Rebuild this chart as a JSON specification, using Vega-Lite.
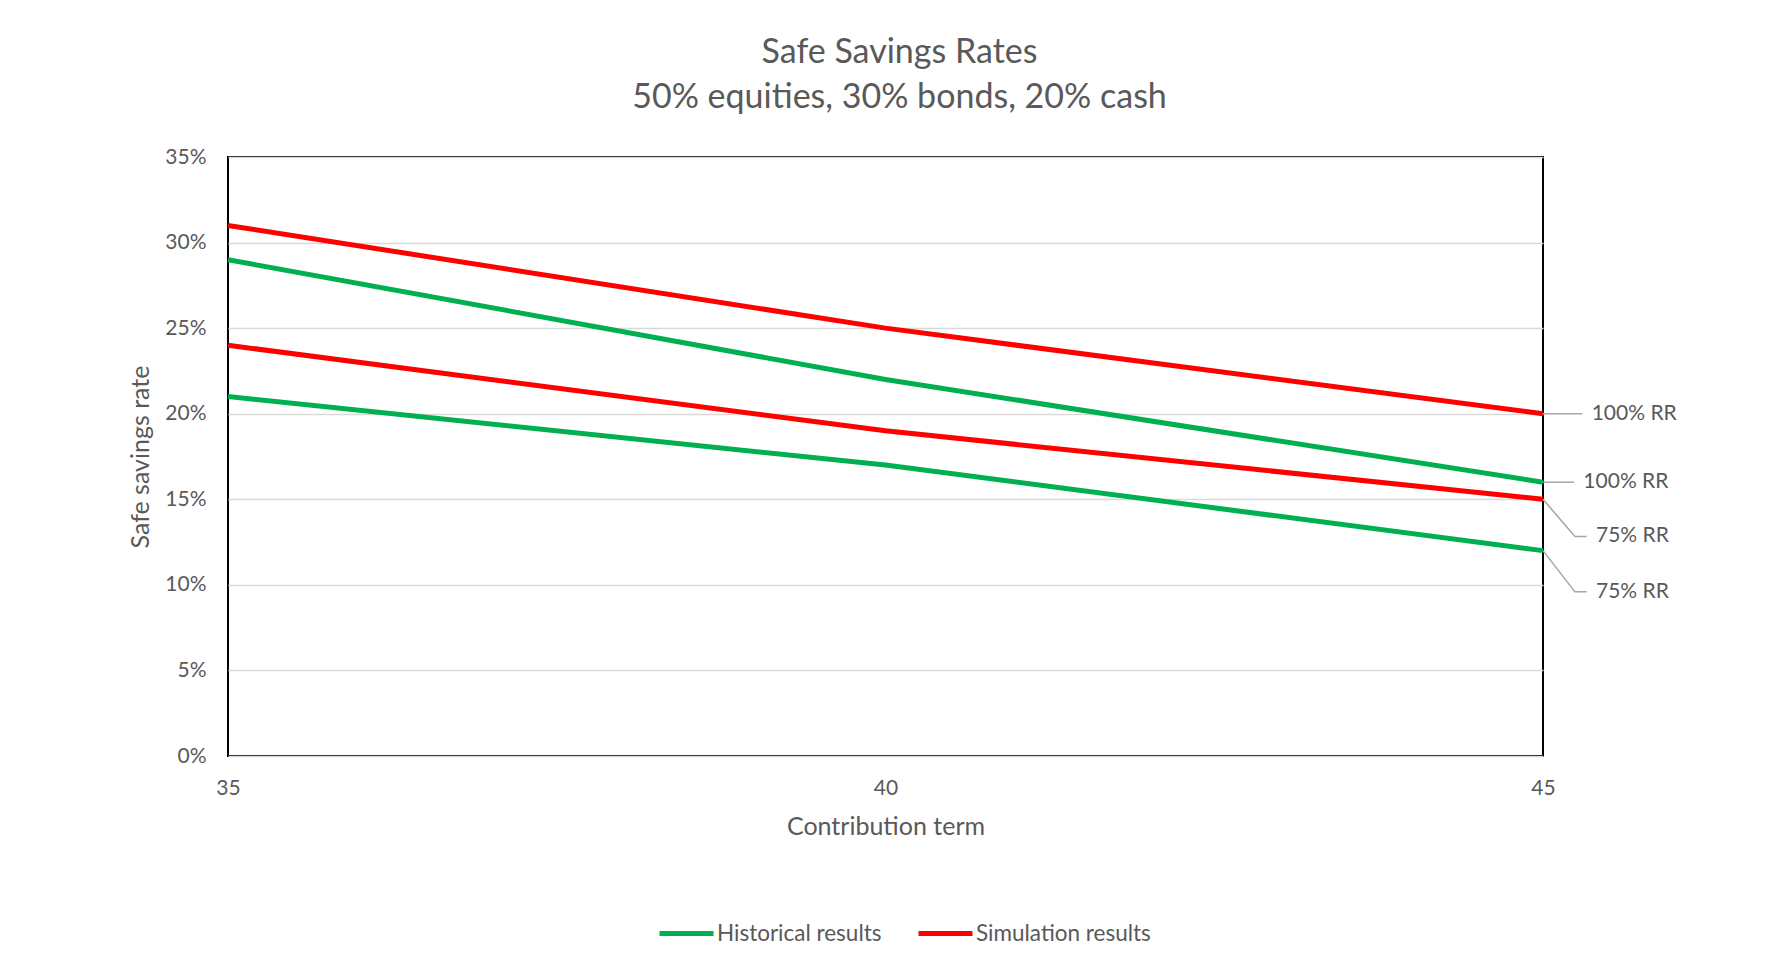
{
  "$schema": "https://vega.github.io/schema/vega-lite/v6.json",
  "width": 1315,
  "height": 599,
  "autosize": {"type": "none"},
  "padding": {"left": 228, "top": 157, "right": 230, "bottom": 212},
  "background": "white",
  "title": {
    "text": ["Safe Savings Rates", "50% equities, 30% bonds, 20% cash"],
    "anchor": "middle",
    "frame": "group",
    "dx": 14,
    "offset": 31,
    "fontSize": 34,
    "font": "Lato",
    "fontWeight": "normal",
    "color": "#595959",
    "lineHeight": 45
  },
  "config": {
    "view": {"stroke": "black", "strokeWidth": 2},
    "font": "Lato"
  },
  "datasets": {
    "rates": [
      {"series": "Historical results", "rr": "Historical 100% RR", "term": 35, "rate": 0.29},
      {"series": "Historical results", "rr": "Historical 100% RR", "term": 40, "rate": 0.22},
      {"series": "Historical results", "rr": "Historical 100% RR", "term": 45, "rate": 0.16},
      {"series": "Historical results", "rr": "Historical 75% RR", "term": 35, "rate": 0.21},
      {"series": "Historical results", "rr": "Historical 75% RR", "term": 40, "rate": 0.17},
      {"series": "Historical results", "rr": "Historical 75% RR", "term": 45, "rate": 0.12},
      {"series": "Simulation results", "rr": "Simulation 100% RR", "term": 35, "rate": 0.31},
      {"series": "Simulation results", "rr": "Simulation 100% RR", "term": 40, "rate": 0.25},
      {"series": "Simulation results", "rr": "Simulation 100% RR", "term": 45, "rate": 0.20},
      {"series": "Simulation results", "rr": "Simulation 75% RR", "term": 35, "rate": 0.24},
      {"series": "Simulation results", "rr": "Simulation 75% RR", "term": 40, "rate": 0.19},
      {"series": "Simulation results", "rr": "Simulation 75% RR", "term": 45, "rate": 0.15}
    ],
    "leaders": [
      {"id": "s100", "step": 1, "term": 45, "rate": 0.20},
      {"id": "s100", "step": 2, "term": 45.30, "rate": 0.20},
      {"id": "h100", "step": 1, "term": 45, "rate": 0.16},
      {"id": "h100", "step": 2, "term": 45.236, "rate": 0.16},
      {"id": "s75", "step": 1, "term": 45, "rate": 0.15},
      {"id": "s75", "step": 2, "term": 45.243, "rate": 0.1283},
      {"id": "s75", "step": 3, "term": 45.332, "rate": 0.1283},
      {"id": "h75", "step": 1, "term": 45, "rate": 0.12},
      {"id": "h75", "step": 2, "term": 45.243, "rate": 0.0959},
      {"id": "h75", "step": 3, "term": 45.332, "rate": 0.0959}
    ],
    "labels": [
      {"label": "100% RR", "term": 45.37, "rate": 0.20},
      {"label": "100% RR", "term": 45.307, "rate": 0.16},
      {"label": "75% RR", "term": 45.403, "rate": 0.1283},
      {"label": "75% RR", "term": 45.403, "rate": 0.0959}
    ]
  },
  "encoding": {
    "x": {
      "field": "term",
      "type": "quantitative",
      "title": "Contribution term",
      "scale": {"domain": [35, 45], "nice": false, "zero": false},
      "axis": {
        "values": [35, 40, 45],
        "format": "d",
        "grid": false,
        "domain": false,
        "ticks": false,
        "labelFlush": false,
        "labelFontSize": 21,
        "labelColor": "#595959",
        "labelPadding": 21,
        "labelFont": "Lato",
        "titleFont": "Lato",
        "titleFontSize": 25,
        "titleFontWeight": "normal",
        "titleColor": "#595959",
        "titlePadding": 16
      }
    },
    "y": {
      "field": "rate",
      "type": "quantitative",
      "title": "Safe savings rate",
      "scale": {"domain": [0, 0.35], "nice": false},
      "axis": {
        "values": [0, 0.05, 0.1, 0.15, 0.2, 0.25, 0.3, 0.35],
        "format": ".0%",
        "grid": true,
        "gridColor": "#d9d9d9",
        "gridWidth": 1.5,
        "domain": false,
        "ticks": false,
        "labelFontSize": 21,
        "labelColor": "#595959",
        "labelPadding": 22,
        "labelFont": "Lato",
        "titleFont": "Lato",
        "titleFontSize": 25,
        "titleFontWeight": "normal",
        "titleColor": "#595959",
        "titlePadding": 11
      }
    }
  },
  "layer": [
    {
      "data": {"name": "leaders"},
      "mark": {"type": "line", "stroke": "#a6a6a6", "strokeWidth": 1.5},
      "encoding": {
        "detail": {"field": "id"},
        "order": {"field": "step"}
      }
    },
    {
      "data": {"name": "rates"},
      "mark": {"type": "line", "strokeWidth": 5},
      "encoding": {
        "color": {
          "field": "series",
          "type": "nominal",
          "scale": {"domain": ["Historical results", "Simulation results"], "range": ["#00B050", "#FF0000"]},
          "legend": {
            "orient": "none",
            "legendX": 429,
            "legendY": 747,
            "direction": "horizontal",
            "title": null,
            "symbolType": "stroke",
            "symbolSize": 2916,
            "symbolStrokeWidth": 5,
            "labelFontSize": 22.5,
            "labelFont": "Lato",
            "labelColor": "#595959",
            "labelOffset": 1,
            "labelLimit": 400,
            "columnPadding": 26
          }
        },
        "detail": {"field": "rr"}
      }
    },
    {
      "data": {"name": "labels"},
      "mark": {"type": "text", "align": "left", "baseline": "middle", "fontSize": 21, "font": "Lato", "color": "#595959"},
      "encoding": {
        "text": {"field": "label"}
      }
    }
  ]
}
